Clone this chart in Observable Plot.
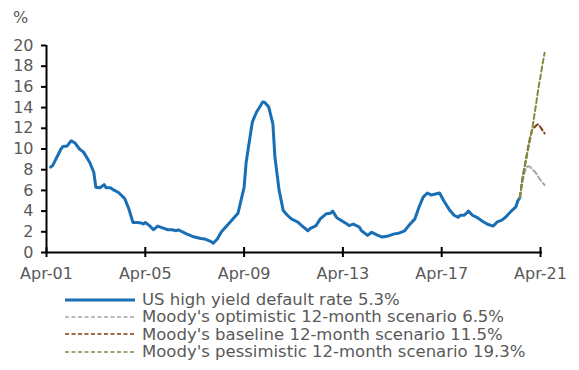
<!DOCTYPE html>
<html><head><meta charset="utf-8">
<script src="https://cdn.jsdelivr.net/npm/d3@7"></script>
<script src="https://cdn.jsdelivr.net/npm/@observablehq/plot@0.6"></script>
<style>
body{margin:0;background:#fff;font-family:"DejaVu Sans",Verdana,sans-serif;color:#595959;}
#wrap{position:relative;width:579px;height:370px;overflow:hidden;}
#unit{position:absolute;left:13px;top:8px;font-size:16px;}
#legend{position:absolute;left:65px;top:291px;font-size:16.5px;line-height:17.3px;}
.row{display:flex;align-items:center;height:17.3px;white-space:nowrap;}
.row svg{margin-right:7px;flex:none;}
</style></head><body>
<div id="wrap"><div id="chart"></div><div id="unit">%</div><div id="legend"></div></div>
<script>
// US high yield default rate (%), month -> value
const hyMonths = ["2001-06","2001-07","2001-09","2001-11","2001-12","2002-02","2002-04","2002-06","2002-08","2002-10",
"2003-01","2003-03","2003-04","2003-06","2003-08","2003-09","2003-11","2004-01","2004-03","2004-06",
"2004-08","2004-10","2004-12","2005-02","2005-03","2005-04","2005-06","2005-08","2005-10","2005-12",
"2006-03","2006-05","2006-07","2006-08","2006-12","2007-03","2007-05","2007-07","2007-09","2007-12",
"2008-01","2008-03","2008-05","2008-09","2009-01","2009-04","2009-05","2009-07","2009-08","2009-09",
"2009-10","2009-12","2010-01","2010-02","2010-04","2010-06","2010-07","2010-09","2010-11","2011-01",
"2011-03","2011-06","2011-08","2011-11","2011-12","2012-03","2012-05","2012-08","2012-10","2012-11",
"2013-01","2013-04","2013-06","2013-07","2013-09","2013-12","2014-01","2014-04","2014-06","2014-09",
"2014-11","2015-02","2015-05","2015-07","2015-10","2015-12","2016-03","2016-05","2016-07","2016-09",
"2016-11","2017-01","2017-03","2017-05","2017-08","2017-10","2017-12","2018-01","2018-03","2018-05",
"2018-07","2018-09","2018-12","2019-02","2019-05","2019-07","2019-09","2019-11","2020-02","2020-04",
"2020-05","2020-06"];
const hyRates = [8.25,8.4,9.2,10.0,10.25,10.3,10.8,10.55,10.0,9.7,
8.7,7.75,6.3,6.25,6.55,6.25,6.25,6.0,5.8,5.2,
4.2,2.9,2.9,2.85,2.75,2.9,2.6,2.2,2.55,2.4,
2.2,2.2,2.1,2.2,1.8,1.55,1.45,1.35,1.3,1.05,
0.9,1.3,2.0,2.9,3.8,6.3,8.7,11.3,12.6,13.1,
13.55,14.2,14.55,14.5,14.05,12.4,9.2,6.0,4.05,3.6,
3.25,2.95,2.6,2.1,2.3,2.6,3.25,3.75,3.8,4.0,
3.35,3.0,2.75,2.6,2.75,2.45,2.1,1.65,1.95,1.65,
1.5,1.6,1.8,1.85,2.1,2.6,3.25,4.4,5.35,5.75,
5.55,5.65,5.75,5.0,4.05,3.6,3.4,3.6,3.6,4.0,
3.6,3.4,3.0,2.75,2.55,2.95,3.1,3.4,4.05,4.4,
5.0,5.3];

// Moody's 12-month scenarios
const scenMonths = ["2020-06","2020-07","2020-08","2020-09","2020-10","2020-11","2020-12","2021-01","2021-02","2021-03","2021-04","2021-05","2021-06"];
const optimistic  = [5.3,6.5,7.6,8.2,8.35,8.25,8.05,7.85,7.6,7.3,7.0,6.75,6.5];
const baseline    = [5.3,6.9,8.0,9.1,10.2,11.2,11.9,12.1,12.3,12.4,12.1,11.8,11.5];
const pessimistic = [5.3,6.9,8.0,9.0,10.0,11.0,12.0,13.3,14.6,15.9,17.0,18.2,19.3];

const legendLabels = ["US high yield default rate 5.3%","Moody's optimistic 12-month scenario 6.5%","Moody's baseline 12-month scenario 11.5%","Moody's pessimistic 12-month scenario 19.3%"];
const seriesColors = ["#1a6fb4","#a6a6a6","#843c0c","#7a8f3f"];

const yTicks = [0,2,4,6,8,10,12,14,16,18,20];
const xTickMonths = ["2001-04","2005-04","2009-04","2013-04","2017-04","2021-04"];

const parse = d3.utcParse("%Y-%m");
const hy = hyMonths.map((m,i)=>({date:parse(m), value:hyRates[i]}));
const mk = arr => scenMonths.map((m,i)=>({date:parse(m), value:arr[i]}));
const xTicks = xTickMonths.map(parse);
const x0 = xTicks[0], x1 = xTicks[xTicks.length-1];
const fontFamily = '"DejaVu Sans", Verdana, sans-serif';

const chart = Plot.plot({
  width:579, height:285,
  marginLeft:46, marginRight:39, marginTop:45, marginBottom:33,
  style:{fontFamily, fontSize:"16px", color:"#595959", background:"white", overflow:"visible"},
  x:{type:"utc", domain:[x0,x1]},
  y:{domain:[0,20]},
  marks:[
    Plot.axisY({ticks:yTicks, tickSize:0, tickPadding:13, label:null, fill:"#595959", fontSize:16}),
    Plot.axisX({ticks:xTicks, tickFormat:d3.utcFormat("%b-%y"), tickSize:0, tickPadding:15, label:null, fill:"#595959", fontSize:16}),
    Plot.ruleY(yTicks, {x1:x0, x2:x0, insetLeft:-5, stroke:"black", strokeWidth:2}),
    Plot.ruleX(xTicks, {y1:0, y2:0, insetTop:-5, insetBottom:-5, stroke:"black", strokeWidth:2}),
    Plot.ruleX([x0], {y1:0, y2:20, stroke:"black", strokeWidth:2}),
    Plot.ruleY([0], {x1:x0, x2:x1, insetRight:-2, stroke:"black", strokeWidth:2}),
    Plot.lineY(hy, {x:"date", y:"value", stroke:seriesColors[0], strokeWidth:3, clip:false}),
    Plot.lineY(mk(optimistic), {x:"date", y:"value", stroke:seriesColors[1], strokeWidth:2, strokeDasharray:"5,3"}),
    Plot.lineY(mk(baseline), {x:"date", y:"value", stroke:seriesColors[2], strokeWidth:2, strokeDasharray:"5,3"}),
    Plot.lineY(mk(pessimistic), {x:"date", y:"value", stroke:seriesColors[3], strokeWidth:2, strokeDasharray:"5,3"})
  ]
});
document.getElementById("chart").appendChild(chart);

const legend = document.getElementById("legend");
legendLabels.forEach((lab,i)=>{
  const row = document.createElement("div");
  row.className = "row";
  const dash = i===0 ? "" : ' stroke-dasharray="4,2.5"';
  const sw = i===0 ? 3 : 1.5;
  row.innerHTML = `<svg width="70" height="6"><line x1="0" x2="70" y1="3" y2="3" stroke="${seriesColors[i]}" stroke-width="${sw}"${dash}/></svg><span>${lab}</span>`;
  legend.appendChild(row);
});
</script>
</body></html>
